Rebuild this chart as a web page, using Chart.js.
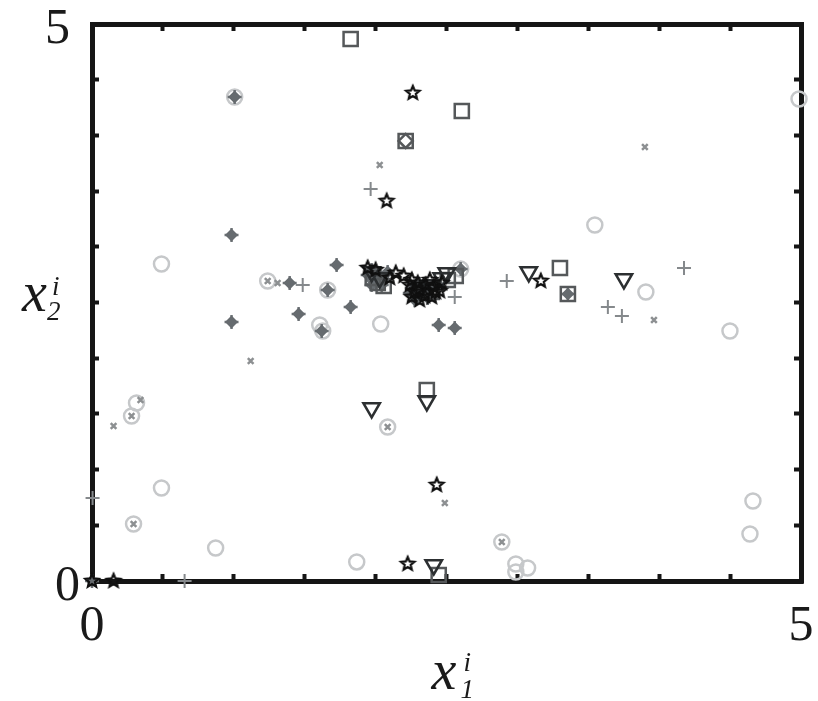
<!DOCTYPE html>
<html>
<head>
<meta charset="utf-8">
<style>
html, body { margin: 0; padding: 0; background: #fff; }
#wrap { width: 818px; height: 701px; }
#plot { filter: blur(0.6px); }
</style>
<script src="https://cdn.jsdelivr.net/npm/chart.js@4/dist/chart.umd.min.js"></script>
</head>
<body>
<div id="wrap"><canvas id="plot" width="818" height="701"></canvas></div>
<script>
const circleX = [1.006, 4.986, 3.546, 0.49, 1.239, 1.662, 1.606, 1.627, 2.036, 3.906, 4.499, 2.6, 0.314, 0.279, 2.085, 0.49, 0.293, 0.872, 1.867, 2.89, 2.989, 2.989, 3.072, 4.661, 4.64]
const circleY = [4.345, 4.327, 3.196, 2.846, 2.693, 2.612, 2.298, 2.244, 2.307, 2.594, 2.244, 2.8, 1.598, 1.481, 1.382, 0.835, 0.512, 0.296, 0.171, 0.35, 0.153, 0.081, 0.117, 0.718, 0.422]

const crossX = [1.006, 3.899, 2.029, 1.309, 0.279, 0.342, 0.152, 1.119, 3.963, 2.488, 2.085, 0.293, 1.239, 2.89]
const crossY = [4.345, 3.896, 3.734, 2.675, 1.481, 1.625, 1.391, 1.975, 2.343, 0.7, 1.382, 0.512, 2.693, 0.35]

const plusX = [1.965, 1.486, 2.558, 2.925, 3.638, 3.737, 4.175, 0.004, 0.653]
const plusY = [3.519, 2.657, 2.549, 2.693, 2.46, 2.379, 2.81, 0.745, 0]

const diamondX = [1.006, 0.984, 0.984, 1.394, 1.457, 1.725, 1.824, 1.662, 1.62, 2.445, 2.558, 3.356, 0, 2.6, 1.972, 2.029, 2, 2.064, 2.255, 2.297, 2.346, 2.396, 2.311, 2.438, 2.368, 2.276, 2.241, 1.944, 2.085, 2.043, 1.972]
const diamondY = [4.345, 3.106, 2.325, 2.675, 2.397, 2.837, 2.46, 2.612, 2.244, 2.298, 2.271, 2.576, 0, 2.8, 2.792, 2.747, 2.675, 2.702, 2.63, 2.558, 2.594, 2.63, 2.657, 2.666, 2.54, 2.522, 2.585, 2.747, 2.774, 2.657, 2.657]

const openDiamondX = [2.212]
const openDiamondY = [3.95]

const squareX = [1.824, 2.608, 2.212, 3.3, 3.356, 2.361, 2.445, 2.015, 2.057, 1.98, 2.565, 2.509, 2.396, 2.297]
const squareY = [4.865, 4.219, 3.95, 2.81, 2.576, 1.715, 0.054, 2.675, 2.648, 2.72, 2.738, 2.702, 2.594, 2.63]

const triangleX = [1.972, 2.361, 2.41, 3.08, 3.751, 1.972, 2.029, 2.311, 2.396, 2.466, 2.502]
const triangleY = [1.553, 1.616, 0.144, 2.774, 2.711, 2.774, 2.72, 2.612, 2.657, 2.72, 2.765]

const starX = [2.262, 2.078, 2.431, 2.226, 0.152, 0, 3.165, 1.944, 2, 2.142, 2.198, 2.255, 2.297, 2.353, 2.41, 2.466, 2.382, 2.311, 2.424, 2.241, 2.1, 2.276, 2.346, 2.396, 2.311, 2.452, 2.255]
const starY = [4.381, 3.411, 0.862, 0.153, 0, 0, 2.693, 2.81, 2.792, 2.765, 2.738, 2.702, 2.675, 2.657, 2.639, 2.675, 2.702, 2.612, 2.594, 2.657, 2.72, 2.594, 2.558, 2.549, 2.522, 2.603, 2.549]

const xTitle = ['x', 'i', '1']
const yTitle = ['x', 'i', '2']

function zip(xs, ys) {
  return xs.map((x, i) => ({x: x, y: ys[i]}))
}

// hollow five point star, chart.js "star" is an asterisk
function starMarker(radius, color) {
  const c = document.createElement('canvas')
  const size = radius * 2 + 6
  c.width = size
  c.height = size
  const g = c.getContext('2d')
  g.strokeStyle = color
  g.lineWidth = 2.2
  g.beginPath()
  for (let i = 0; i < 10; i++) {
    const r = i % 2 ? radius * 0.45 : radius
    const a = -Math.PI / 2 + i * Math.PI / 5
    g.lineTo(size / 2 + r * Math.cos(a), size / 2 + r * Math.sin(a))
  }
  g.closePath()
  g.stroke()
  return c
}

function axis(position, axisName, showLabels) {
  return {
    type: 'linear',
    axis: axisName,
    position: position,
    min: 0,
    max: 5,
    grid: {drawOnChartArea: false, drawTicks: true, tickLength: -7, tickWidth: 4, tickColor: '#151515'},
    border: {display: true, width: 5, color: '#151515'},
    ticks: {
      display: showLabels,
      stepSize: 0.5,
      autoSkip: false,
      maxRotation: 0,
      padding: axisName === 'y' ? 19 : 23,
      labelOffset: axisName === 'y' ? 6 : 0,
      color: '#1a1a1a',
      font: {family: '"Liberation Serif"', size: 50},
      callback: v => {
        if (v === 0) return '0'
        // the upper 5 sits a little further from the axis than the 0
        if (v === 5) return axisName === 'y' ? '5\u2009' : '5'
        return ''
      }
    },
    afterFit: s => {
      if (axisName === 'y') s.width = position === 'left' ? 92 : 17
      else s.height = position === 'top' ? 24 : 120
      // labels may hang past the plot, keep the frame where it is
      s.paddingLeft = s.paddingRight = s.paddingTop = s.paddingBottom = 0
    }
  }
}

const titlePlugin = {
  id: 'axisTitles',
  afterDraw(chart) {
    const ctx = chart.ctx
    const a = chart.chartArea
    ctx.save()
    ctx.fillStyle = '#1a1a1a'
    ctx.textAlign = 'left'
    ctx.textBaseline = 'alphabetic'
    const cx = (a.left + a.right) / 2
    const cy = (a.top + a.bottom) / 2
    ctx.font = 'italic 56px "Liberation Serif"'
    ctx.fillText(xTitle[0], cx - 15, a.bottom + 108)
    ctx.fillText(yTitle[0], a.left - 70, cy + 8)
    ctx.font = 'italic 27px "Liberation Serif"'
    ctx.fillText(xTitle[1], cx + 17, a.bottom + 90)
    ctx.fillText(xTitle[2], cx + 14, a.bottom + 117)
    ctx.fillText(yTitle[1], a.left - 40, cy - 8)
    ctx.fillText(yTitle[2], a.left - 45, cy + 17)
    ctx.restore()
  }
}

new Chart(document.getElementById('plot'), {
  type: 'scatter',
  plugins: [titlePlugin],
  data: {
    datasets: [
      {label: 'circle', data: zip(circleX, circleY), pointStyle: 'circle', pointRadius: 7.5, pointBorderWidth: 2.5, pointBorderColor: '#c6c8ca', pointBackgroundColor: 'transparent', order: 7},
      {label: 'cross', data: zip(crossX, crossY), pointStyle: 'crossRot', pointRadius: 4, pointBorderWidth: 2.5, pointBorderColor: '#8d9092', order: 6},
      {label: 'plus', data: zip(plusX, plusY), pointStyle: 'cross', pointRadius: 7, pointBorderWidth: 2, pointBorderColor: '#85898c', order: 5},
      {label: 'diamond', data: zip(diamondX, diamondY), pointStyle: 'rectRot', pointRadius: 6.5, pointBorderWidth: 0, pointBackgroundColor: '#666b6f', order: 4},
      {label: 'diamond arms', data: zip(diamondX, diamondY), pointStyle: 'cross', pointRadius: 7, pointBorderWidth: 2.5, pointBorderColor: '#6f7478', order: 4},
      {label: 'open diamond', data: zip(openDiamondX, openDiamondY), pointStyle: 'rectRot', pointRadius: 7, pointBorderWidth: 2.5, pointBorderColor: '#55585a', pointBackgroundColor: 'transparent', order: 3},
      {label: 'square', data: zip(squareX, squareY), pointStyle: 'rect', pointRadius: 10, pointBorderWidth: 2.5, pointBorderColor: '#55585a', pointBackgroundColor: 'transparent', order: 3},
      {label: 'triangle', data: zip(triangleX, triangleY), pointStyle: 'triangle', pointRotation: 180, pointRadius: 9.5, pointBorderWidth: 2.5, pointBorderColor: '#2c2f31', pointBackgroundColor: 'transparent', order: 2},
      {label: 'star', data: zip(starX, starY), pointStyle: starMarker(7, '#101010'), order: 1}
    ]
  },
  options: {
    responsive: false,
    animation: false,
    clip: false,
    plugins: {legend: {display: false}, tooltip: {enabled: false}},
    scales: {
      x: axis('bottom', 'x', true),
      xTop: axis('top', 'x', false),
      y: axis('left', 'y', true),
      yRight: axis('right', 'y', false)
    }
  }
})
</script>
</body>
</html>
